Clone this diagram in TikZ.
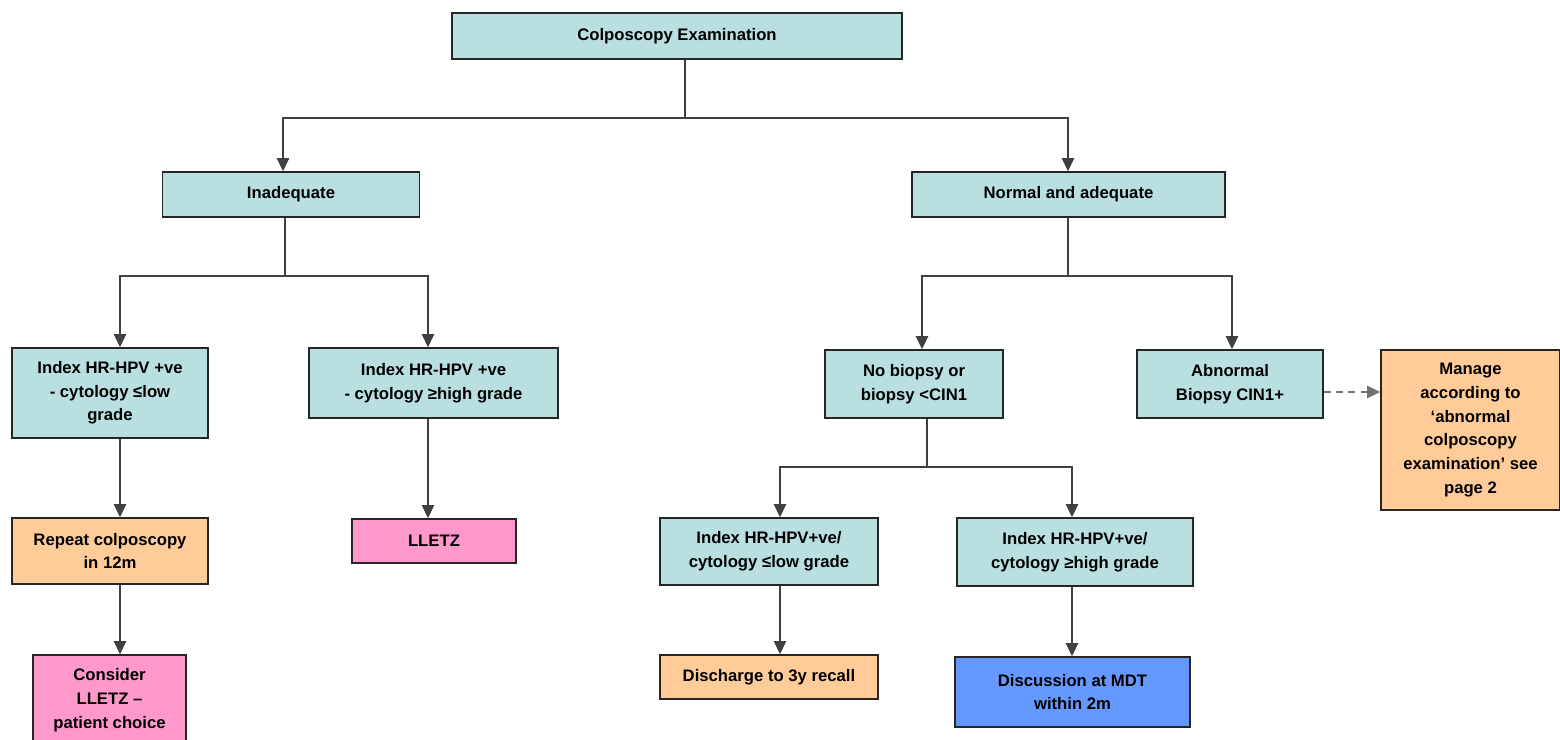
\documentclass[tikz,border=0pt]{standalone}
\usepackage{fontspec}
\setmainfont{Liberation Sans}
\usetikzlibrary{arrows.meta}

\begin{document}
\begin{tikzpicture}[x=.02cm,y=-.02cm,>={Triangle[width=7pt,length=7.5pt]}]
\tikzset{
  box/.style={draw=black!85, line width=.9pt, align=center, inner sep=2pt,
    font=\fontsize{9.5}{13.5}\selectfont\bfseries},
  link/.style={draw=black!75, line width=1.1pt},
  linkdash/.style={draw=black!55, line width=1.1pt, dash pattern=on 4pt off 3pt}
}

\definecolor{boxteal}{RGB}{185,223,225}
\definecolor{boxorange}{RGB}{255,204,153}
\definecolor{boxpink}{RGB}{255,153,204}
\definecolor{boxblue}{RGB}{102,153,255}

\useasboundingbox (0,0) rectangle (1560,740);

% top levels
\node[box,fill=boxteal,minimum width=9cm,minimum height=.92cm] (colpo) at (677,36) {Colposcopy Examination};
\node[box,fill=boxteal,minimum width=5.14cm,minimum height=.9cm] (inad) at (291,194.5) {Inadequate};
\node[box,fill=boxteal,minimum width=6.26cm,minimum height=.9cm] (normal) at (1068.5,194.5) {Normal and adequate};

% inadequate branch
\node[box,fill=boxteal,minimum width=3.92cm,minimum height=1.8cm] (lowL) at (110,393) {Index HR-HPV +ve\\- cytology ≤low\\grade};
\node[box,fill=boxteal,minimum width=4.98cm,minimum height=1.4cm] (highL) at (433.5,383) {Index HR-HPV +ve\\- cytology ≥high grade};
\node[box,fill=boxorange,minimum width=3.92cm,minimum height=1.32cm] (repeat) at (110,551) {Repeat colposcopy\\in 12m};
\node[box,fill=boxpink,minimum width=3.28cm,minimum height=.88cm] (lletz) at (434,541) {LLETZ};
\node[box,fill=boxpink,minimum width=3.06cm,minimum height=1.8cm] (consider) at (109.5,700) {Consider\\LLETZ –\\patient choice};

% normal branch
\node[box,fill=boxteal,minimum width=3.56cm,minimum height=1.36cm] (nobiopsy) at (914,384) {No biopsy or\\biopsy <CIN1};
\node[box,fill=boxteal,minimum width=3.72cm,minimum height=1.36cm] (abnormal) at (1230,384) {Abnormal\\Biopsy CIN1+};
\node[box,fill=boxorange,minimum width=3.58cm,minimum height=3.2cm] (manage) at (1470.5,430) {Manage\\according to\\‘abnormal\\colposcopy\\examination’ see\\page 2};
\node[box,fill=boxteal,minimum width=4.36cm,minimum height=1.34cm] (lowM) at (769,551.5) {Index HR-HPV+ve/\\cytology ≤low grade};
\node[box,fill=boxteal,minimum width=4.72cm,minimum height=1.36cm] (highM) at (1075,552) {Index HR-HPV+ve/\\cytology ≥high grade};
\node[box,fill=boxorange,minimum width=4.36cm,minimum height=.88cm] (discharge) at (769,677) {Discharge to 3y recall};
\node[box,fill=boxblue,minimum width=4.7cm,minimum height=1.4cm] (discussion) at (1072.5,692) {Discussion at MDT\\within 2m};

% junctions
\coordinate (jtop) at (685,118);
\coordinate (jleft) at (285,276);
\coordinate (jright) at (1068,276);
\coordinate (jmid) at (927,467);

% connectors
\draw[link] (jtop |- colpo.south) -- (jtop);
\draw[link,->] (jtop) -| (inad.north -| 283,0);
\draw[link,->] (jtop) -| (normal.north -| 1068,0);
\draw[link] (jleft |- inad.south) -- (jleft);
\draw[link,->] (jleft) -| (lowL.north -| 120,0);
\draw[link,->] (jleft) -| (highL.north -| 428,0);
\draw[link] (jright |- normal.south) -- (jright);
\draw[link,->] (jright) -| (nobiopsy.north -| 922,0);
\draw[link,->] (jright) -| (abnormal.north -| 1232,0);
\draw[link] (jmid |- nobiopsy.south) -- (jmid);
\draw[link,->] (jmid) -| (lowM.north -| 780,0);
\draw[link,->] (jmid) -| (highM.north -| 1072,0);

\draw[link,->] (lowL.south -| 120,0) -- (repeat.north -| 120,0);
\draw[link,->] (repeat.south -| 120,0) -- (consider.north -| 120,0);
\draw[link,->] (highL.south -| 428,0) -- (lletz.north -| 428,0);
\draw[link,->] (lowM.south -| 780,0) -- (discharge.north -| 780,0);
\draw[link,->] (highM.south -| 1072,0) -- (discussion.north -| 1072,0);
\draw[linkdash,->] (abnormal.east |- 0,392) -- (manage.west |- 0,392);
\end{tikzpicture}
\end{document}
